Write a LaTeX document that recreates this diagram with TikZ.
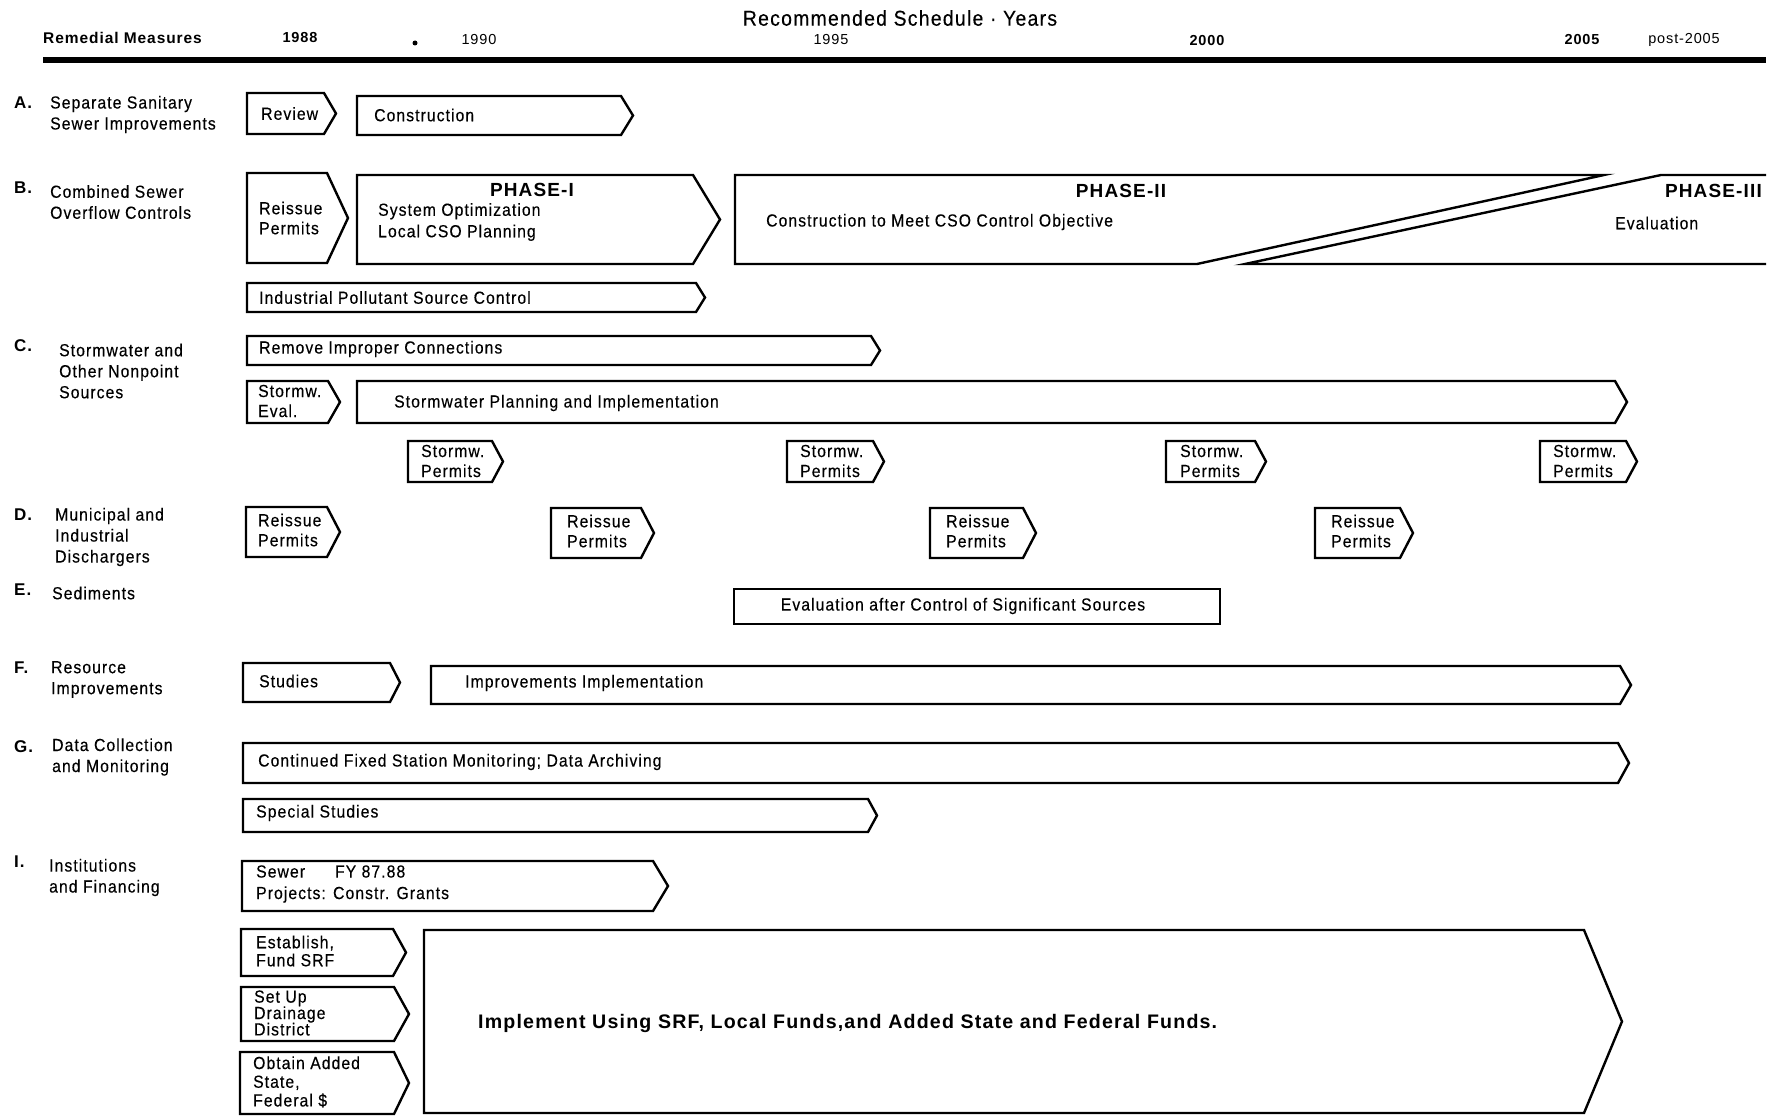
\documentclass[tikz,border=0pt]{standalone}
\usepackage{fontspec}
\setmainfont[LetterSpace=6]{Liberation Sans}
\newfontfamily\bxfont[LetterSpace=6,FakeStretch=0.9,FakeBold=0.3]{Liberation Sans}
\tikzset{
  boxline/.style={draw=black, line width=2.4pt},
  txt/.style={font=\bxfont\fontsize{17.5}{20}\selectfont, anchor=west, inner sep=0pt, align=left},
  lab/.style={font=\bxfont\fontsize{17.5}{21}\selectfont, anchor=west, inner sep=0pt, align=left},
  letter/.style={font=\bfseries\fontsize{17}{20}\selectfont, anchor=west, inner sep=0pt},
  hdr/.style={font=\fontsize{14.5}{17}\selectfont, inner sep=0pt},
  hdrb/.style={font=\bfseries\fontsize{14.5}{17}\selectfont, inner sep=0pt},
  phase/.style={font=\bfseries\fontsize{19}{22}\selectfont, inner sep=0pt},
}
% name, x-left, x-tip, y-top, y-bottom, depth, text-x, text-y, text
\newcommand{\abox}[9]{%
  \coordinate (#1-tl) at (#2,#4);
  \draw[boxline] (#1-tl) -- ({#3-#6},#4) -- (#3,{(#4+#5)/2}) -- ({#3-#6},#5) -- (#2,#5) -- cycle;
  \node[txt] (#1) at (#7,#8) {#9};
}
\begin{document}
\begin{tikzpicture}[x=1pt,y=-1pt]
\useasboundingbox (0,0) rectangle (1775,1116);

% ---------- header ----------
\node[font=\bxfont\fontsize{21.5}{24}\selectfont, inner sep=0pt] (title) at (900,18) {Recommended Schedule · Years};
\node[font=\bfseries\fontsize{15.5}{18}\selectfont, inner sep=0pt, anchor=west] (rm) at (43,38) {Remedial Measures};
\node[hdrb] (y88) at (300,38) {1988};
\fill (415,43) circle (2.5pt);
\node[hdr] (y90) at (479,40) {1990};
\node[hdr] (y95) at (831,40) {1995};
\node[hdrb] (y00) at (1207,41) {2000};
\node[hdrb] (y05) at (1582,40) {2005};
\node[hdr] (ypost) at (1684,40) {post-2005};
\coordinate (rl) at (43,60);
\coordinate (rr) at (1766,60);
\draw[line width=5.5pt] (rl) -- (rr);

% ---------- left labels ----------
\node[letter] (lA) at (14,103) {A.};
\node[lab] (tA) at (50,114.5) {Separate Sanitary\\Sewer Improvements};
\node[letter] (lB) at (14,188) {B.};
\node[lab] (tB) at (50,202) {Combined Sewer\\Overflow Controls};
\node[letter] (lC) at (14,346) {C.};
\node[lab] (tC) at (59,371) {Stormwater and\\Other Nonpoint\\Sources};
\node[letter] (lD) at (14,515) {D.};
\node[lab] (tD) at (55,537) {Municipal and\\Industrial\\Dischargers};
\node[letter] (lE) at (14,590) {E.};
\node[lab] (tE) at (52,593) {Sediments};
\node[letter] (lF) at (14,668) {F.};
\node[lab] (tF) at (51,679.5) {Resource\\Improvements};
\node[letter] (lG) at (14,747) {G.};
\node[lab] (tG) at (52,757) {Data Collection\\and Monitoring};
\node[letter] (lI) at (14,862) {I.};
\node[lab] (tI) at (49,877.5) {Institutions\\and Financing};

% ---------- row A ----------
\abox{review}{247}{336}{93}{134}{12}{261}{113.5}{Review}
\abox{constr}{357}{633}{96}{135}{12}{374}{115}{Construction}

% ---------- row B ----------
\abox{reissueB}{247}{348}{173}{263}{21}{259}{218}{Reissue\\Permits}
\abox{phaseI}{357}{720}{175}{264}{27}{378}{222}{System Optimization\\[1.5pt]Local CSO Planning}
\node[phase] (p1) at (532,190) {PHASE-I};
\coordinate (p2tl) at (735,175);
\draw[boxline] (p2tl) -- (1604,175) -- (1197,264) -- (735,264) -- cycle;
\node[phase] (p2) at (1121,191) {PHASE-II};
\node[txt] (cso) at (766,222) {Construction to Meet CSO Control Objective};
\coordinate (p3tr) at (1766,175);
\draw[boxline] (p3tr) -- (1661,175) -- (1245,264) -- (1766,264);
\node[phase, anchor=east] (p3) at (1762,191) {PHASE-III};
\node[txt] (evIII) at (1615,223) {Evaluation};
\abox{indus}{247}{705}{283}{312}{9}{259}{297.5}{Industrial Pollutant Source Control}

% ---------- row C ----------
\abox{remove}{247}{880}{336}{365}{9}{259}{349}{Remove Improper Connections}
\abox{seval}{247}{340}{381}{423}{12}{258}{401}{Stormw.\\Eval.}
\abox{splan}{357}{1627}{381}{423}{12}{394}{403}{Stormwater Planning and Implementation}
\abox{sp1}{408}{503}{441}{482}{11}{421}{461}{Stormw.\\Permits}
\abox{sp2}{787}{884}{441}{482}{11}{800}{461}{Stormw.\\Permits}
\abox{sp3}{1166}{1266}{441}{482}{11}{1180}{461}{Stormw.\\Permits}
\abox{sp4}{1540}{1637}{441}{482}{11}{1553}{461}{Stormw.\\Permits}

% ---------- row D ----------
\abox{rp1}{246}{340}{507}{557}{13}{258}{530}{Reissue\\Permits}
\abox{rp2}{551}{654}{508}{558}{13}{567}{531}{Reissue\\Permits}
\abox{rp3}{930}{1036}{508}{558}{13}{946}{531}{Reissue\\Permits}
\abox{rp4}{1315}{1413}{508}{558}{13}{1331}{531}{Reissue\\Permits}

% ---------- row E ----------
\coordinate (sedtl) at (734,589);
\coordinate (sedbr) at (1220,624);
\draw[boxline] (sedtl) rectangle (sedbr);
\node[txt, anchor=center] (sed) at (963,606) {Evaluation after Control of Significant Sources};

% ---------- row F ----------
\abox{studies}{243}{400}{663}{702}{10}{259}{681}{Studies}
\abox{improv}{431}{1631}{666}{704}{11}{465}{683}{Improvements Implementation}

% ---------- row G ----------
\abox{contin}{243}{1629}{743}{783}{11}{258}{762}{Continued Fixed Station Monitoring; Data Archiving}
\abox{special}{243}{877}{799}{832}{9}{256}{813}{Special Studies}

% ---------- row I ----------
\abox{sewer}{242}{668}{861}{911}{15}{256}{884}{Sewer\hspace*{30pt}FY 87.88\\[1.5pt]Projects: Constr. Grants}
\abox{estab}{241}{406}{929}{976}{13}{256}{951}{Establish,\\[-2pt]Fund SRF}
\abox{setup}{241}{409}{987}{1041}{15}{254}{1013}{Set Up\\[-3.6pt]Drainage\\[-3.6pt]District}
\abox{obtain}{240}{409}{1052}{1114}{15}{253}{1082}{Obtain Added\\[-1.3pt]State,\\[-1.3pt]Federal \$}
\abox{implem}{424}{1622}{930}{1113}{38}{478}{1023}{\normalfont\bfseries\fontsize{19.6}{22}\selectfont Implement Using SRF, Local Funds,and Added State and Federal Funds.}

\end{tikzpicture}
\end{document}
